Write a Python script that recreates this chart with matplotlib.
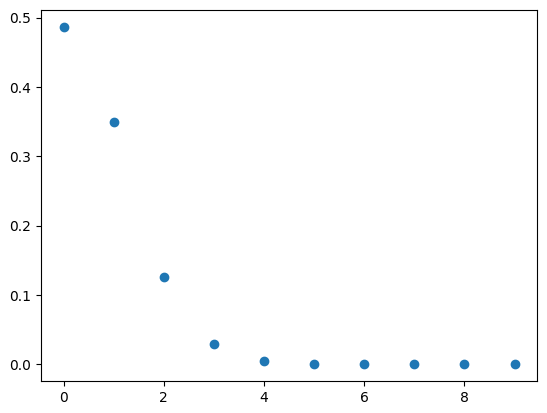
import matplotlib
matplotlib.use("Agg")
import matplotlib.pyplot as plt

x_vals = [0, 1, 2, 3, 4, 5, 6, 7, 8, 9]
y_vals = [0.487, 0.349, 0.126, 0.029, 0.005, 0.0004, 0.00002, 0.0, 0.0, 0.0]

fig = plt.figure(figsize=(5.47, 4.13), dpi=100)
ax = fig.add_axes([0.075, 0.077, 0.907, 0.899])
ax.scatter(x_vals, y_vals, color="#1f77b4")
fig.savefig("out.png", dpi=100)
